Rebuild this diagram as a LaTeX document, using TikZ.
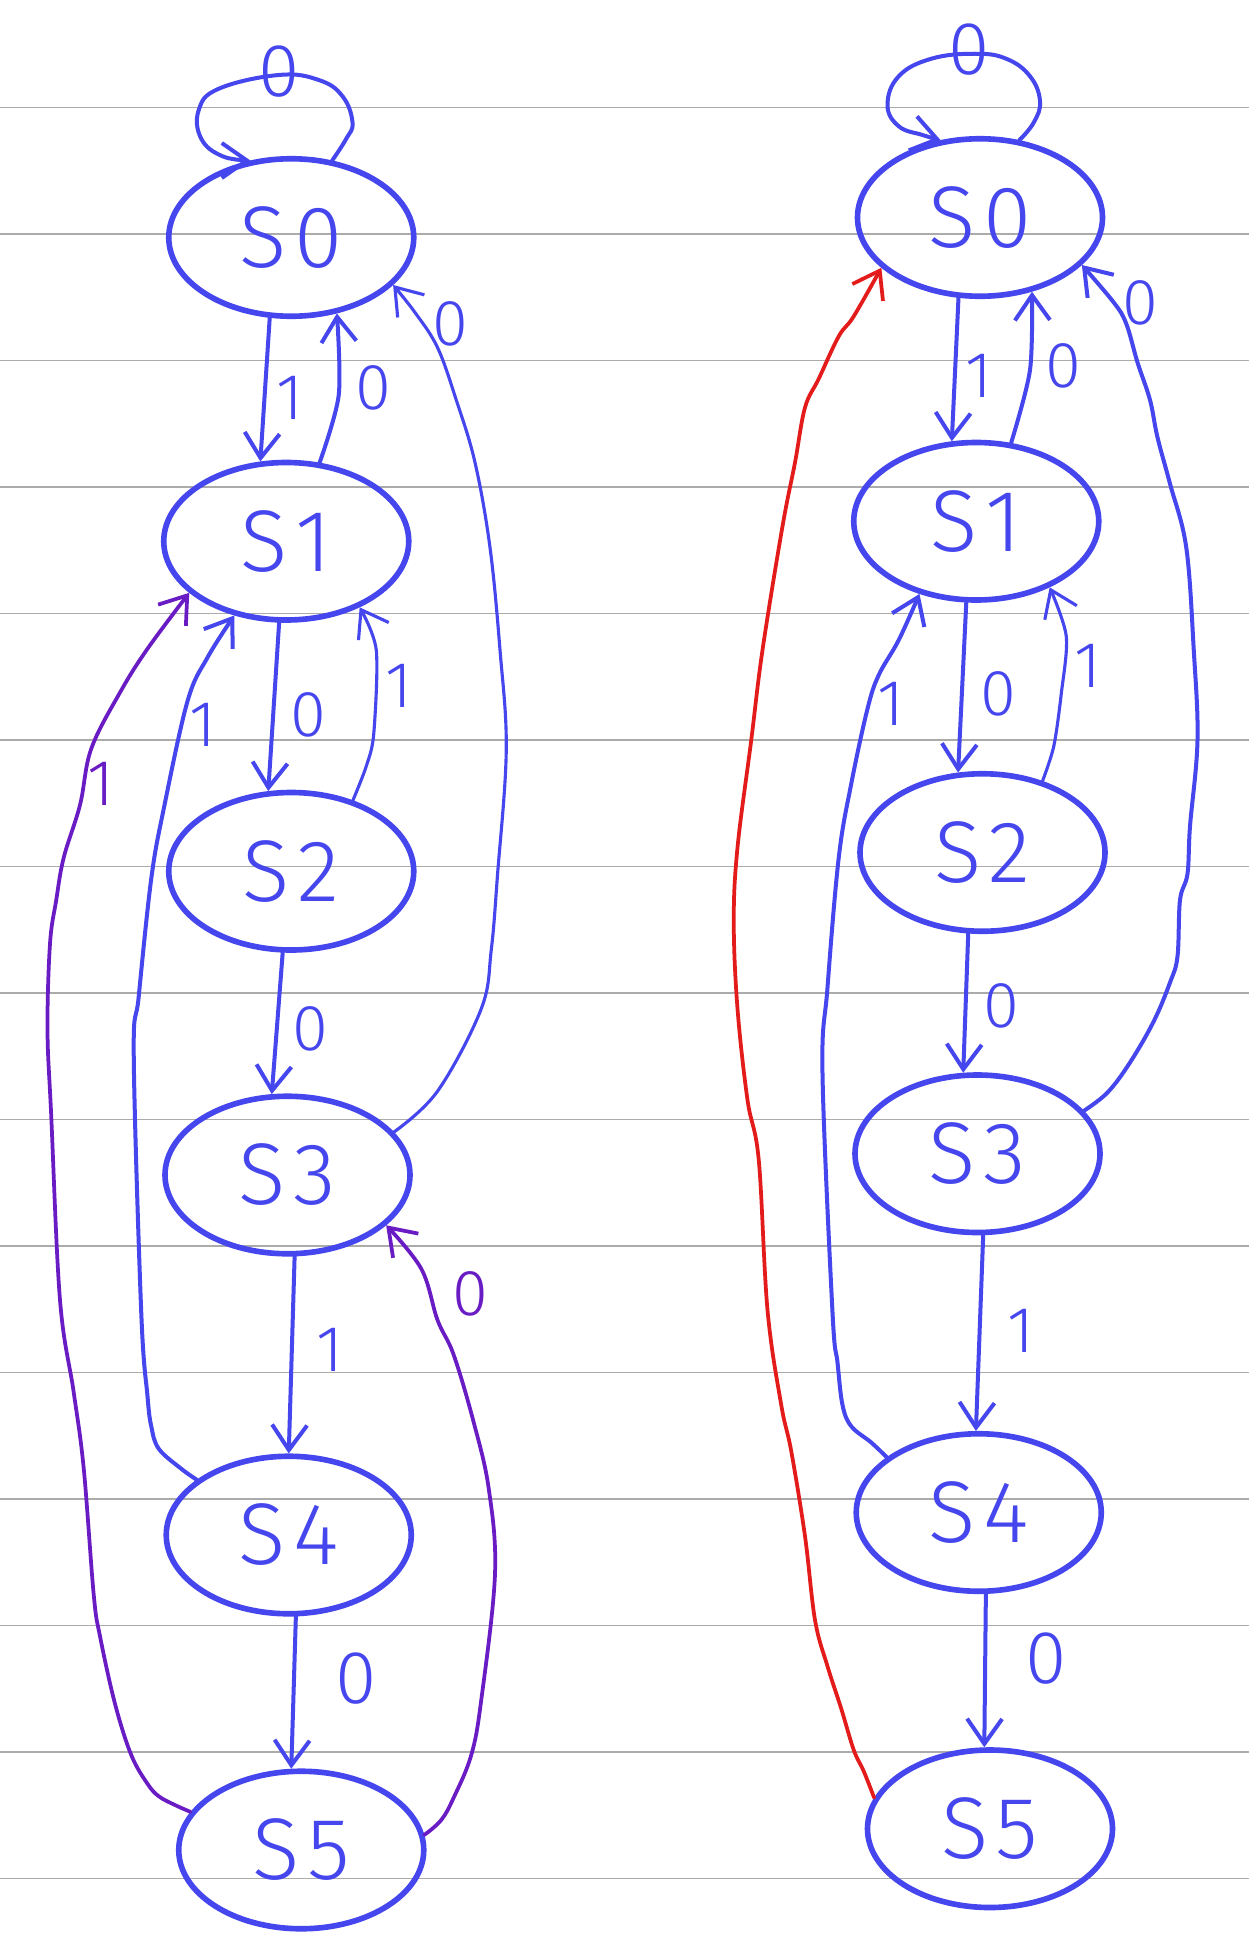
\documentclass[tikz,border=0pt]{standalone}
\usepackage{fontspec}
\newfontfamily\hand{Fira Sans Light}
\usetikzlibrary{arrows.meta,shapes.geometric}
\definecolor{ink}{HTML}{4646EE}
\definecolor{vio}{HTML}{6A1CC4}
\definecolor{redink}{HTML}{E31B1B}
\definecolor{rulegray}{HTML}{ABABAB}
\tikzset{
  state/.style={ellipse, draw=ink, line width=4.5pt, minimum width=196pt, minimum height=126pt,
    inner sep=0pt, text=ink, font=\hand\fontsize{70}{70}\selectfont},
  conn/.style={draw=ink, line width=3.2pt, line cap=round, line join=round,
    -{Straight Barb[length=20pt,width=28pt]}},
  thinconn/.style={conn, line width=2.5pt},
  vioconn/.style={conn, draw=vio, line width=3pt},
  redconn/.style={conn, draw=redink, line width=3pt},
  lab/.style={text=ink, font=\hand\fontsize{52}{52}\selectfont, inner sep=0pt},
  biglab/.style={lab, font=\hand\fontsize{60}{60}\selectfont},
  violab/.style={lab, text=vio},
  ruleline/.style={draw=rulegray, line width=1.4pt}
}
\begin{document}
\begin{tikzpicture}[x=1pt,y=-1pt]
\fill[white] (0,0) rectangle (999,1568);
\useasboundingbox (0,0) rectangle (999,1568);
\foreach \k in {0,...,14} \draw[ruleline] (0,{86+101.2*\k}) -- (999,{86+101.2*\k});

% ---------- left diagram ----------
\node[state] (l0) at (233,190) {S\kern6pt0};
\node[state] (l1) at (229,433) {S\kern6pt1};
\node[state] (l2) at (233,697) {S\kern6pt2};
\node[state] (l3) at (230,940) {S\kern6pt3};
\node[state] (l4) at (231,1228) {S\kern6pt4};
\node[state] (l5) at (241,1480) {S\kern6pt5};

\draw[conn] plot[smooth,tension=0.7] coordinates {(l0.62) (277,111) (282,98) (274,77) (255,64) (223,60) (175,71) (159,88) (161,111) (178,125) (l0.118)};
\draw[conn] (l0.-105) -- (l1.108);
\draw[conn] plot[smooth] coordinates {(l1.67) (271,316) (l0.-59)};
\draw[thinconn] plot[smooth,tension=0.6] coordinates {(l3.22) (350,873) (385,807) (393,760) (398,700) (405,600) (400,520) (392,438) (380,370) (365,320) (350,278) (332,250) (l0.-25)};
\draw[conn] (l1.-95) -- (l2.106);
\draw[thinconn] plot[smooth] coordinates {(l2.49) (293,613) (299,587) (301,520) (l1.-42)};
\draw[conn] plot[smooth,tension=0.6] coordinates {(l4.149) (145,1175) (127,1159) (121,1141) (118,1117) (113,1050) (107,845) (111,797) (121,703) (131,647) (150,561) (166,526) (l1.-125)};
\draw[vioconn] plot[smooth,tension=0.6] coordinates {(l5.161) (140,1444) (127,1437) (118,1427) (105,1404) (92,1363) (80,1309) (75,1276) (67,1175) (59,1114) (48,1040) (41,893) (38,824) (40,755) (45,720) (51,686) (64,644) (73,599) (96,554) (118,519) (l1.-152)};
\draw[conn] (l2.-96) -- (l3.101);
\draw[conn] (l3.-85) -- (l4.90);
\draw[conn] (l4.-85) -- (l5.97);
\draw[vioconn] plot[smooth,tension=0.6] coordinates {(l5.7) (353,1456) (363,1438) (377,1404) (385,1360) (396,1259) (391,1191) (379,1138) (363,1084) (350,1056) (337,1015) (l3.-27)};

\node[biglab] (la) at (223,57) {0};
\node[lab] (lb) at (232,318) {1};
\node[lab] (lc) at (299,310) {0};
\node[lab] (ld) at (360,259) {0};
\node[lab] (le) at (162,580) {1};
\node[lab] (lf) at (247,572) {0};
\node[lab] (lg) at (319,549) {1};
\node[violab] (lh) at (81,627) {1};
\node[lab] (li) at (248,823) {0};
\node[lab] (lj) at (264,1080) {1};
\node[biglab] (lk) at (285,1343) {0};
\node[violab] (ll) at (376,1035) {0};

% ---------- right diagram ----------
\node[state] (r0) at (784,174) {S\kern6pt0};
\node[state] (r1) at (781,417) {S\kern6pt1};
\node[state] (r2) at (786,682) {S\kern6pt2};
\node[state] (r3) at (782,923) {S\kern6pt3};
\node[state] (r4) at (783,1210) {S\kern6pt4};
\node[state] (r5) at (792,1463) {S\kern6pt5};

\draw[conn] plot[smooth,tension=0.7] coordinates {(r0.63) (827,98) (832,81) (824,61) (805,47) (780,43) (745,47) (719,61) (710,84) (719,101) (738,108) (r0.117)};
\draw[conn] (r0.-105) -- (r1.107);
\draw[conn] plot[smooth] coordinates {(r1.66) (824,296) (r0.-55)};
\draw[conn] plot[smooth,tension=0.6] coordinates {(r3.22) (886,874) (904,850) (923,817) (936,786) (942,765) (944,720) (950,699) (952,661) (958,592) (955,520) (949,438) (936,387) (926,350) (920,320) (910,290) (901,259) (891,242) (r0.-25)};
\draw[redconn] plot[smooth,tension=0.6] coordinates {(r5.165) (691,1417) (683,1400) (673,1367) (662,1333) (652,1296) (644,1229) (633,1161) (625,1124) (614,1048) (607,928) (598,880) (590,807) (587,737) (590,678) (601,592) (610,520) (626,421) (636,370) (644,326) (655,303) (671,269) (683,253) (r0.-153)};
\draw[conn] (r1.-97) -- (r2.107);
\draw[thinconn] plot[smooth] coordinates {(r2.50) (843,597) (849,555) (853,509) (r1.-42)};
\draw[conn] plot[smooth,tension=0.6] coordinates {(r4.149) (697,1154) (681,1141) (674,1124) (670,1090) (666,1050) (658,859) (662,790) (671,686) (681,627) (694,567) (703,540) (719,512) (r1.-128)};
\draw[conn] (r2.-100) -- (r3.100);
\draw[conn] (r3.-86) -- (r4.92);
\draw[conn] (r4.-85) -- (r5.94);

\node[biglab] (ra) at (775,40) {0};
\node[lab] (rb) at (783,301) {1};
\node[lab] (rc) at (851,293) {0};
\node[lab] (rd) at (912,242) {0};
\node[lab] (re) at (713,563) {1};
\node[lab] (rf) at (799,555) {0};
\node[lab] (rg) at (870,533) {1};
\node[lab] (rh) at (801,805) {0};
\node[lab] (ri) at (817,1065) {1};
\node[biglab] (rj) at (837,1327) {0};
\end{tikzpicture}
\end{document}
